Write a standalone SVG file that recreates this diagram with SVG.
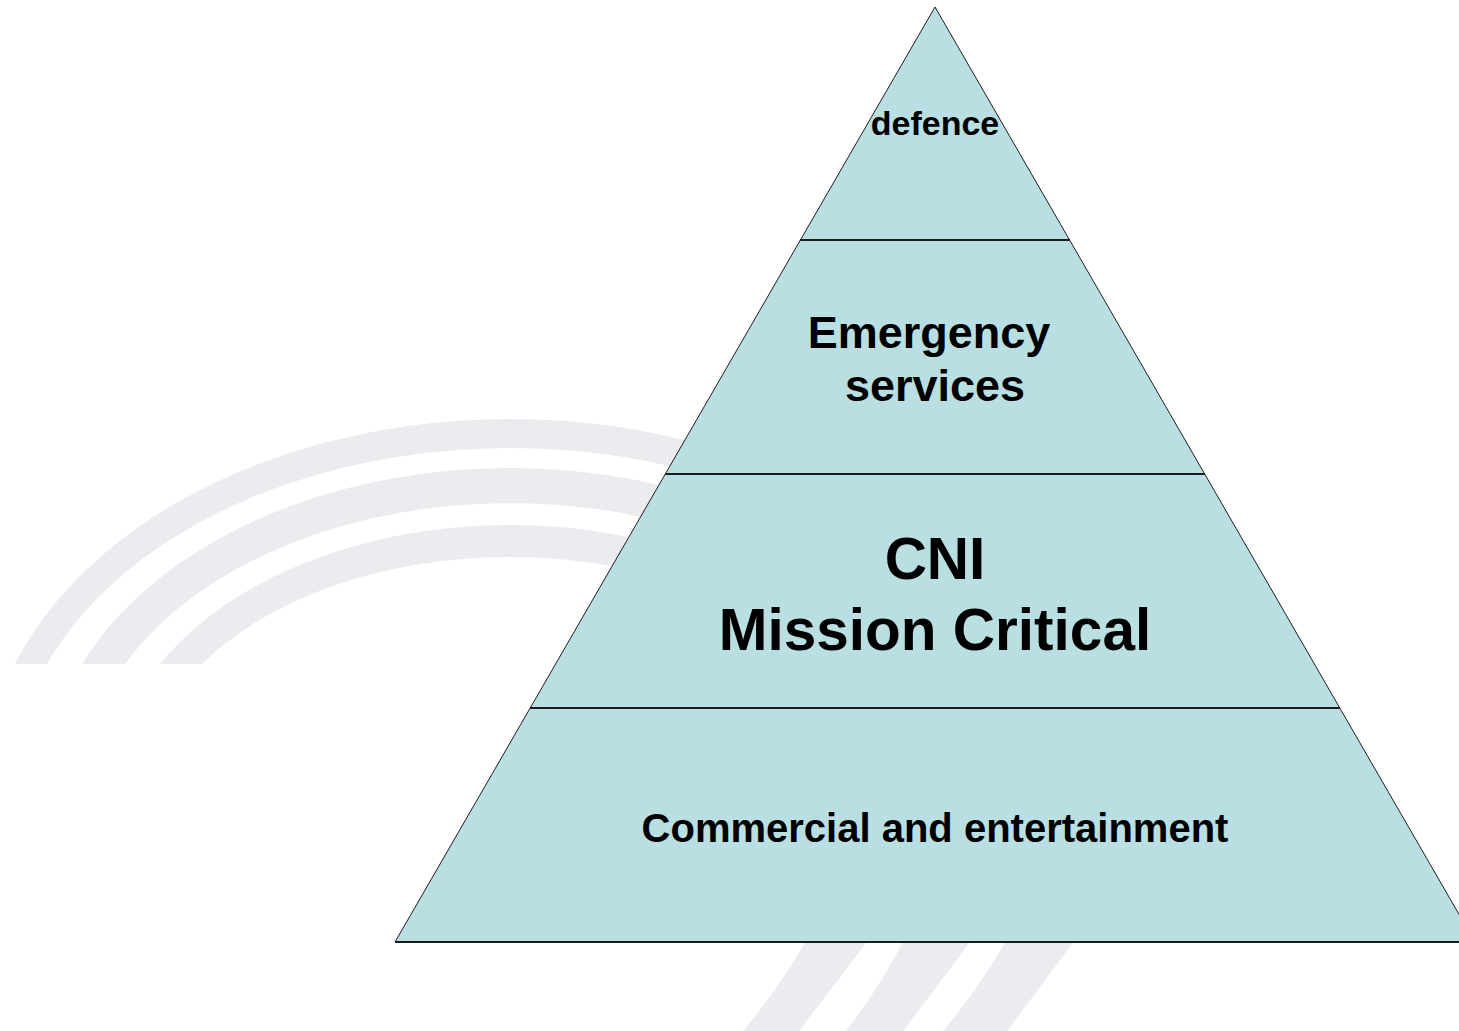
<svg xmlns="http://www.w3.org/2000/svg" width="1459" height="1031" viewBox="0 0 1459 1031">
  <style>
    .band { fill: #ebebf0; }
    .layer { fill: #b9dfe2; stroke: #1e1e1e; stroke-width: 1; stroke-linejoin: miter; }
    .divider { stroke: #1a1a1a; stroke-width: 2; fill: none; }
    .label { font-family: "Liberation Sans", Arial, sans-serif; font-weight: bold; fill: #000; text-anchor: middle; }
  </style>
  <defs>
    <clipPath id="arcClip">
      <rect x="0" y="0" width="1459" height="664"/>
    </clipPath>
  </defs>

  <rect x="0" y="0" width="1459" height="1031" fill="#ffffff"/>

  <!-- faint background arcs (logo watermark) -->
  <g id="watermark">
    <g clip-path="url(#arcClip)">
      <path class="band" d="M -15.5 788 A 525.5 369 0 0 1 1035.5 788 L 1007.3 788 A 497.3 340 0 0 0 12.7 788 Z"/>
      <path class="band" d="M 45.8 788 A 464.2 320 0 0 1 974.2 788 L 937.6 788 A 427.6 285 0 0 0 82.4 788 Z"/>
      <path class="band" d="M 113.1 788 A 396.9 263 0 0 1 906.9 788 L 875 788 A 365 231 0 0 0 145 788 Z"/>
    </g>
    <path class="band" d="M 812 930 L 876 930 Q 834 985 799 1031 L 743 1031 Q 782 985 812 930 Z"/>
    <path class="band" d="M 909 930 L 979 930 Q 938 985 903 1031 L 846 1031 Q 882 985 909 930 Z"/>
    <path class="band" d="M 1012 930 L 1082 930 Q 1042 985 1007 1031 L 943 1031 Q 982 985 1012 930 Z"/>
  </g>

  <!-- pyramid tiers -->
  <g id="tier-defence">
    <polygon class="layer" points="935,7 1069.6,240 800.4,240"/>
    <text class="label" x="935" y="135" font-size="34">defence</text>
  </g>
  <g id="tier-emergency">
    <polygon class="layer" points="800.4,240 1069.6,240 1204.7,474 665.3,474"/>
    <text class="label" x="929" y="348" font-size="45">Emergency</text>
    <text class="label" x="935" y="401" font-size="45">services</text>
  </g>
  <g id="tier-cni">
    <polygon class="layer" points="665.3,474 1204.7,474 1339.8,708 530.2,708"/>
    <text class="label" x="935" y="579" font-size="58.5">CNI</text>
    <text class="label" x="935" y="650" font-size="58.5">Mission Critical</text>
  </g>
  <g id="tier-commercial">
    <polygon class="layer" points="530.2,708 1339.8,708 1475,942 395,942"/>
    <text class="label" x="935" y="842" font-size="40">Commercial and entertainment</text>
  </g>

  <!-- tier boundaries -->
  <g id="connectors">
    <line class="divider" x1="800.4" y1="240" x2="1069.6" y2="240"/>
    <line class="divider" x1="665.3" y1="474" x2="1204.7" y2="474"/>
    <line class="divider" x1="530.2" y1="708" x2="1339.8" y2="708"/>
    <line class="divider" x1="395" y1="942" x2="1475" y2="942" stroke-width="1.5"/>
  </g>
</svg>
